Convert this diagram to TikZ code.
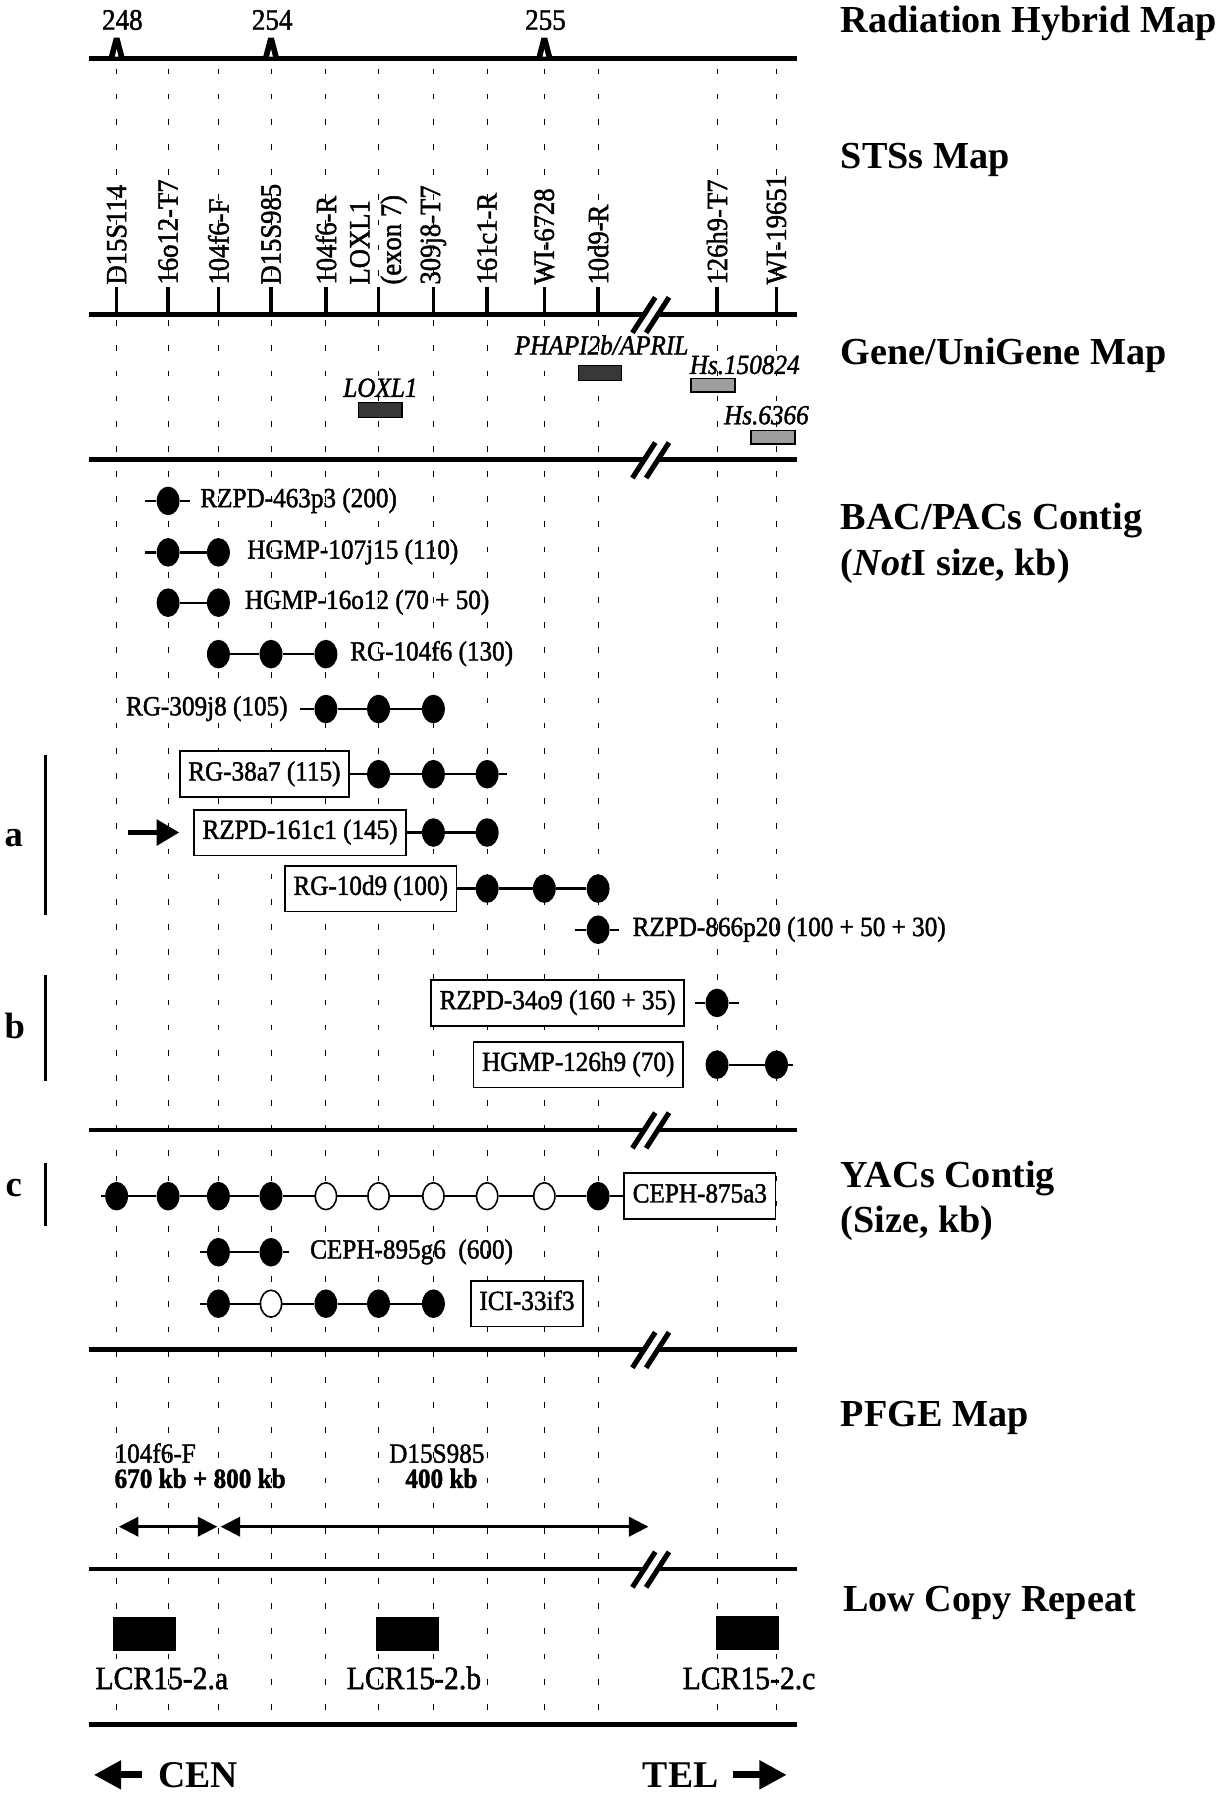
\documentclass[tikz,border=0pt]{standalone}
\usepackage{fontspec}
\setmainfont{Liberation Serif}
\newfontfamily\labfam{Liberation Serif}[FakeStretch=0.91, FakeBold=1.5]
\usetikzlibrary{shapes.geometric,arrows.meta,patterns}
\newcommand{\labfont}{\labfam\fontsize{24.2}{27}\selectfont}
\newcommand{\stsfont}{\labfam\fontsize{25.6}{27.5}\selectfont}
\newcommand{\titfont}{\bfseries\fontsize{33.4}{40}\selectfont}
\newcommand{\lcrfont}{\labfam\fontsize{28.5}{32}\selectfont}
\newcommand{\colA}{102}
\newcommand{\colB}{147}
\newcommand{\colC}{191}
\newcommand{\colD}{237}
\newcommand{\colE}{285}
\newcommand{\colF}{331}
\newcommand{\colG}{379}
\newcommand{\colH}{426}
\newcommand{\colI}{476}
\newcommand{\colJ}{523}
\newcommand{\colK}{627}
\newcommand{\colL}{679}
\newcommand{\brkmark}[1]{%
  \fill[white] (557,#1+15) -- (575,#1-15) -- (584,#1-15) -- (566,#1+15) -- cycle;
  \draw[line width=4.5pt] (553,#1+16) -- (573,#1-15);
  \draw[line width=4.5pt] (565,#1+16) -- (585,#1-15);}
\newcommand{\rhmark}[1]{%
  \fill[black] (#1-7.5,52) -- (#1-2.5,33) -- (#1+2.5,33) -- (#1+7.5,52) -- cycle;
  \fill[white] (#1-1.6,49.5) -- (#1,43) -- (#1+1.6,49.5) -- cycle;}
\tikzset{
  axis/.style={line width=4pt},
  guide/.style={line width=0.9pt, dash pattern=on 5pt off 17pt},
  tick/.style={line width=3pt},
  fdot/.style={ellipse, fill=black, minimum width=20pt, minimum height=25pt, inner sep=0pt},
  odot/.style={ellipse, draw=black, line width=1.4pt, fill=white, minimum width=18.5pt, minimum height=23.5pt, inner sep=0pt},
  clone/.style={line width=2pt},
  lbl/.style={font=\labfont, inner sep=0pt, text height=16pt, text depth=5pt, anchor=west},
  boxlbl/.style={draw, line width=1.5pt, fill=white, font=\labfont, inner xsep=7.5pt, inner ysep=9.5pt, text height=16pt, text depth=5pt},
  title/.style={font=\titfont, anchor=base west, inner sep=0pt},
  sts/.style={font=\stsfont, rotate=90, anchor=west, inner sep=0pt, align=left},
  num/.style={font=\labfam\fontsize{26}{28}\selectfont, anchor=base, inner sep=0pt},
  gene/.style={font=\labfont\itshape, anchor=base west, inner sep=0pt},
  genedark/.style={draw=black, line width=1pt, fill=black!78, minimum width=38pt, minimum height=13pt, inner sep=0pt},
  genelight/.style={draw=black, line width=1.5pt, fill=black!38, minimum width=38pt, minimum height=12pt, inner sep=0pt},
  side/.style={font=\bfseries\fontsize{32}{36}\selectfont, inner sep=0pt},
  sidebar/.style={line width=3pt},
  dbl/.style={line width=2.2pt, {Triangle[length=17pt,width=17pt]}-{Triangle[length=17pt,width=17pt]}},
  bigarrow/.style={line width=5pt, -{Triangle[length=20pt,width=22pt]}},
  lcr/.style={fill=black, minimum width=55pt, minimum height=30pt, inner sep=0pt},
  lcrlbl/.style={font=\lcrfont, anchor=base, inner sep=0pt},
  endlbl/.style={font=\bfseries\fontsize{33}{38}\selectfont, anchor=base west, inner sep=0pt},
  endarrow/.style={line width=6pt, -{Triangle[length=24pt,width=24pt]}}
}
\begin{document}
\begin{tikzpicture}[x=1pt,y=-1pt]
\useasboundingbox (0,0) rectangle (1072,1574);
% vertical guide lines
\foreach \c in {\colA,\colB,\colC,\colD,\colE,\colF,\colG,\colH,\colI,\colJ,\colK,\colL}
  \draw[guide] (\c,60) -- (\c,1500);

% ---------- Radiation hybrid map ----------
\draw[axis] (78,51) -- (697,51);
\rhmark{\colA}\rhmark{\colD}\rhmark{\colI}
\node[num] (n248) at (107,26) {248};
\node[num] (n254) at (238,26) {254};
\node[num] (n255) at (477,26) {255};
\node[title] (tRH) at (735,28) {Radiation Hybrid Map};

% ---------- STS map ----------
\node[title] (tSTS) at (735,147) {STSs Map};
\node[sts] (s1) at (\colA,249) {D15S114};
\node[sts] (s2) at (\colB,249) {16o12-T7};
\node[sts] (s3) at (\colC,249) {104f6-F};
\node[sts] (s4) at (\colD,249) {D15S985};
\node[sts] (s5) at (\colE,249) {104f6-R};
\node[sts] (s6) at (\colF,249) {LOXL1\\(exon 7)};
\node[sts] (s7) at (\colG,249) {309j8-T7};
\node[sts] (s8) at (\colH,249) {161c1-R};
\node[sts] (s9) at (\colI,249) {WI-6728};
\node[sts] (s10) at (\colJ,249) {10d9-R};
\node[sts] (s11) at (\colK,249) {126h9-T7};
\node[sts] (s12) at (\colL,249) {WI-19651};
\foreach \c in {\colA,\colB,\colC,\colD,\colE,\colF,\colG,\colH,\colI,\colJ,\colK,\colL}
  \draw[tick] (\c,251) -- (\c,275);
\draw[axis] (78,275) -- (697,275);
\brkmark{275}

% ---------- Gene / UniGene map ----------
\node[title] (tGene) at (735,319) {Gene/UniGene Map};
\node[gene] (gPH) at (450,310) {PHAPI2b/APRIL};
\node[genedark] (bPH) at (524.5,326) {};
\node[gene] (gHs1) at (603,327) {Hs.150824};
\node[genelight] (bHs1) at (623.5,337) {};
\node[gene] (gLOX) at (300,347) {LOXL1};
\node[genedark] (bLOX) at (332.5,358.5) {};
\node[gene] (gHs2) at (633,371) {Hs.6366};
\node[genelight] (bHs2) at (676,382.5) {};
\draw[axis] (78,402) -- (697,402);
\brkmark{402}

% ---------- BAC/PAC contig ----------
\node[title] (tBAC) at (735,463) {BAC/PACs Contig};
\node[title] (tBAC2) at (735,503) {(\textit{Not}I size, kb)};

% row 1
\coordinate (r1l) at (127,438); \coordinate (r1r) at (166,438);
\node[fdot] (r1a) at (\colB,438) {};
\draw[clone] (r1l) -- (r1a) -- (r1r);
\node[lbl] (r1t) at (175,438) {RZPD-463p3 (200)};
% row 2
\coordinate (r2l) at (127,483);
\node[fdot] (r2a) at (\colB,483) {};
\node[fdot] (r2b) at (\colC,483) {};
\draw[clone] (r2l) -- (r2a) -- (r2b);
\node[lbl] (r2t) at (216,483) {HGMP-107j15 (110)};
% row 3
\node[fdot] (r3a) at (\colB,527) {};
\node[fdot] (r3b) at (\colC,527) {};
\draw[clone] (r3a) -- (r3b);
\node[lbl] (r3t) at (214,527) {HGMP-16o12 (70 + 50)};
% row 4
\node[fdot] (r4a) at (\colC,572) {};
\node[fdot] (r4b) at (\colD,572) {};
\node[fdot] (r4c) at (\colE,572) {};
\draw[clone] (r4a) -- (r4b) -- (r4c);
\node[lbl] (r4t) at (306,572) {RG-104f6 (130)};
% row 5
\node[lbl] (r5t) at (110,620) {RG-309j8 (105)};
\coordinate (r5l) at (262,620);
\node[fdot] (r5a) at (\colE,620) {};
\node[fdot] (r5b) at (\colF,620) {};
\node[fdot] (r5c) at (\colG,620) {};
\draw[clone] (r5l) -- (r5a) -- (r5b) -- (r5c);
% row 6
\node[boxlbl, anchor=east] (r6t) at (306,677) {RG-38a7 (115)};
\node[fdot] (r6a) at (\colF,677) {};
\node[fdot] (r6b) at (\colG,677) {};
\node[fdot] (r6c) at (\colH,677) {};
\coordinate (r6r) at (443,677);
\draw[clone] (r6t) -- (r6a) -- (r6b) -- (r6c) -- (r6r);
% row 7
\node[boxlbl, anchor=east] (r7t) at (356,728) {RZPD-161c1 (145)};
\coordinate (r7arr) at (112,728);
\draw[bigarrow, shorten >=12pt] (r7arr) -- (r7t);
\node[fdot] (r7a) at (\colG,728) {};
\node[fdot] (r7b) at (\colH,728) {};
\draw[clone] (r7t) -- (r7a) -- (r7b);
% row 8
\node[boxlbl, anchor=east] (r8t) at (400,777) {RG-10d9 (100)};
\node[fdot] (r8a) at (\colH,777) {};
\node[fdot] (r8b) at (\colI,777) {};
\node[fdot] (r8c) at (\colJ,777) {};
\draw[clone] (r8t) -- (r8a) -- (r8b) -- (r8c);
% row 9
\coordinate (r9l) at (503,813); \coordinate (r9r) at (541,813);
\node[fdot] (r9a) at (\colJ,813) {};
\draw[clone] (r9l) -- (r9a) -- (r9r);
\node[lbl] (r9t) at (553,813) {RZPD-866p20 (100 + 50 + 30)};
% row 10
\node[boxlbl, anchor=east] (r10t) at (599,877) {RZPD-34o9 (160 + 35)};
\coordinate (r10l) at (608,877); \coordinate (r10r) at (646,877);
\node[fdot] (r10a) at (\colK,877) {};
\draw[clone] (r10l) -- (r10a) -- (r10r);
% row 11
\node[boxlbl, anchor=east] (r11t) at (598,931) {HGMP-126h9 (70)};
\node[fdot] (r11a) at (\colK,931) {};
\node[fdot] (r11b) at (\colL,931) {};
\coordinate (r11r) at (693,931);
\draw[clone] (r11a) -- (r11b) -- (r11r);

% side markers a, b
\node[side] (la) at (12,733) {a};
\coordinate (sa1) at (40,660); \coordinate (sa2) at (40,800);
\draw[sidebar] (sa1) -- (sa2);
\node[side] (lb) at (13,897) {b};
\coordinate (sb1) at (40,853); \coordinate (sb2) at (40,945);
\draw[sidebar] (sb1) -- (sb2);

\draw[axis] (78,988) -- (697,988);
\brkmark{988}

% ---------- YAC contig ----------
\node[title] (tYAC) at (735,1038) {YACs Contig};
\node[title] (tYAC2) at (735,1078) {(Size, kb)};
\node[side] (lc) at (12,1039) {c};
\coordinate (sc1) at (40,1017); \coordinate (sc2) at (40,1072);
\draw[sidebar] (sc1) -- (sc2);
% row 1
\coordinate (y1l) at (88,1046);
\node[fdot] (y1a) at (\colA,1046) {};
\node[fdot] (y1b) at (\colB,1046) {};
\node[fdot] (y1c) at (\colC,1046) {};
\node[fdot] (y1d) at (\colD,1046) {};
\node[odot] (y1e) at (\colE,1046) {};
\node[odot] (y1f) at (\colF,1046) {};
\node[odot] (y1g) at (\colG,1046) {};
\node[odot] (y1h) at (\colH,1046) {};
\node[odot] (y1i) at (\colI,1046) {};
\node[fdot] (y1j) at (\colJ,1046) {};
\node[boxlbl, anchor=west] (y1t) at (545,1046) {CEPH-875a3};
\draw[clone] (y1l) -- (y1a) -- (y1b) -- (y1c) -- (y1d) -- (y1e) -- (y1f) -- (y1g) -- (y1h) -- (y1i) -- (y1j) -- (y1t);
% row 2
\coordinate (y2l) at (175,1095); \coordinate (y2r) at (253,1095);
\node[fdot] (y2a) at (\colC,1095) {};
\node[fdot] (y2b) at (\colD,1095) {};
\draw[clone] (y2l) -- (y2a) -- (y2b) -- (y2r);
\node[lbl] (y2t) at (271,1095) {CEPH-895g6~~(600)};
% row 3
\coordinate (y3l) at (175,1140);
\node[fdot] (y3a) at (\colC,1140) {};
\node[odot] (y3b) at (\colD,1140) {};
\node[fdot] (y3c) at (\colE,1140) {};
\node[fdot] (y3d) at (\colF,1140) {};
\node[fdot] (y3e) at (\colG,1140) {};
\draw[clone] (y3l) -- (y3a) -- (y3b) -- (y3c) -- (y3d) -- (y3e);
\node[boxlbl, anchor=west] (y3t) at (411,1140) {ICI-33if3};

\draw[axis] (78,1180) -- (697,1180);
\brkmark{1180}

% ---------- PFGE map ----------
\node[title] (tPFGE) at (735,1247) {PFGE Map};
\node[font=\labfont, anchor=base west, inner sep=0pt] (p1) at (100,1279) {104f6-F};
\node[font=\labfont\bfseries, anchor=base west, inner sep=0pt] (p1b) at (100,1301) {670 kb + 800 kb};
\node[font=\labfont, anchor=base, inner sep=0pt] (p2) at (382,1279) {D15S985};
\node[font=\labfont\bfseries, anchor=base, inner sep=0pt] (p2b) at (386,1301) {400 kb};
\coordinate (pa1) at (104,1335); \coordinate (pa2) at (190,1335);
\coordinate (pb1) at (193,1335); \coordinate (pb2) at (567,1335);
\draw[dbl] (pa1) -- (pa2);
\draw[dbl] (pb1) -- (pb2);
\draw[axis] (78,1372) -- (697,1372);
\brkmark{1372}

% ---------- Low copy repeat ----------
\node[title] (tLCR) at (737,1409) {Low Copy Repeat};
\node[lcr] (lcra) at (126.5,1429) {};
\node[lcr] (lcrb) at (356,1429) {};
\node[lcr] (lcrc) at (654,1428) {};
\node[lcrlbl] (lcrta) at (141.5,1477) {LCR15-2.a};
\node[lcrlbl] (lcrtb) at (362,1477) {LCR15-2.b};
\node[lcrlbl] (lcrtc) at (655,1477) {LCR15-2.c};
\draw[axis] (78,1508) -- (697,1508);

% ---------- CEN / TEL ----------
\node[endlbl] (cen) at (138,1563) {CEN};
\node[endlbl] (tel) at (562,1563) {TEL};
\coordinate (cenTail) at (124,1552); \coordinate (cenTip) at (82,1552);
\coordinate (telTail) at (641,1552); \coordinate (telTip) at (688,1552);
\draw[endarrow] (cenTail) -- (cenTip);
\draw[endarrow] (telTail) -- (telTip);
\end{tikzpicture}
\end{document}
